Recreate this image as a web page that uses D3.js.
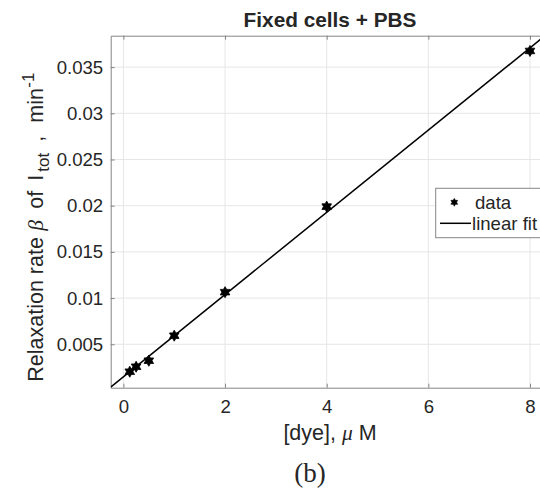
<!DOCTYPE html>
<html>
    <head>
        <title>Fixed cells + PBS</title>
        <script src="https://d3js.org/d3.v7.min.js"></script>
        <style>
            body { margin: 0; background: #fff; }
            text { font-family: "Liberation Sans", Arial, sans-serif; fill: #262626; }
        </style>
    </head>
    <body>
        <svg width="540" height="492"></svg>
        <script>
            // data
            const dye = [0.125, 0.25, 0.5, 1, 2, 4, 8];
            const beta = [0.00203, 0.00257, 0.00322, 0.00593, 0.01064, 0.0199, 0.03675];
            // linear fit
            const fitSlope = 0.00445;
            const fitIntercept = 0.00148;
            const xTicks = [0, 2, 4, 6, 8];
            const yTicks = [0.005, 0.01, 0.015, 0.02, 0.025, 0.03, 0.035];

            const svg = d3.select("svg");
            const axLeft = 110.7, axRight = 549.3, axTop = 35.7, axBottom = 387.7;

            const x = d3.scaleLinear().domain([-0.25, 8.38]).range([axLeft, axRight]);
            const y = d3.scaleLinear().domain([0.0003, 0.0384]).range([axBottom, axTop]);

            // grid
            svg.append("g")
                .selectAll("line")
                .data(xTicks)
                .join("line")
                .attr("x1", (d) => x(d)).attr("x2", (d) => x(d))
                .attr("y1", axTop).attr("y2", axBottom)
                .attr("stroke", "#e6e6e6");
            svg.append("g")
                .selectAll("line")
                .data(yTicks)
                .join("line")
                .attr("x1", axLeft).attr("x2", axRight)
                .attr("y1", (d) => y(d)).attr("y2", (d) => y(d))
                .attr("stroke", "#e6e6e6");

            // axes (box on, inward ticks)
            const xAxis = d3.axisBottom(x).tickValues(xTicks).tickSizeInner(-4).tickSizeOuter(0).tickPadding(12.5);
            const yAxis = d3.axisLeft(y).tickValues(yTicks).tickSizeInner(-4).tickSizeOuter(0).tickPadding(7.5)
                .tickFormat((d) => String(+d.toFixed(3)));

            const gx = svg.append("g").attr("transform", `translate(0,${axBottom})`).call(xAxis);
            const gy = svg.append("g").attr("transform", `translate(${axLeft},0)`).call(yAxis);
            const gxTop = svg.append("g").attr("transform", `translate(0,${axTop})`)
                .call(d3.axisTop(x).tickValues(xTicks).tickSizeInner(-4).tickSizeOuter(0).tickFormat(""));
            const gyRight = svg.append("g").attr("transform", `translate(${axRight},0)`)
                .call(d3.axisRight(y).tickValues(yTicks).tickSizeInner(-4).tickSizeOuter(0).tickFormat(""));

            [gx, gy, gxTop, gyRight].forEach((g) => {
                g.select(".domain").attr("stroke", "#858585");
                g.selectAll(".tick line").attr("stroke", "#858585");
                g.selectAll(".tick text").style("font-size", "18.6px").attr("fill", "#262626");
            });

            // clip for plot lines
            svg.append("clipPath").attr("id", "clip")
                .append("rect")
                .attr("x", axLeft).attr("y", axTop)
                .attr("width", axRight - axLeft).attr("height", axBottom - axTop);

            // fit line
            const fitX = x.domain();
            svg.append("line")
                .attr("clip-path", "url(#clip)")
                .attr("x1", x(fitX[0])).attr("y1", y(fitIntercept + fitSlope * fitX[0]))
                .attr("x2", x(fitX[1])).attr("y2", y(fitIntercept + fitSlope * fitX[1]))
                .attr("stroke", "#000")
                .attr("stroke-width", 1.5);

            // hexagram marker
            const hexagram = {
                draw(context, size) {
                    const r = Math.sqrt(size) * 0.62;
                    const ri = r / Math.sqrt(3);
                    for (let i = 0; i < 12; i++) {
                        const a = -Math.PI / 2 + (i * Math.PI) / 6;
                        const rr = i % 2 === 0 ? r : ri;
                        if (i === 0) context.moveTo(rr * Math.cos(a), rr * Math.sin(a));
                        else context.lineTo(rr * Math.cos(a), rr * Math.sin(a));
                    }
                    context.closePath();
                },
            };
            const marker = d3.symbol().type(hexagram);

            svg.append("g")
                .selectAll("path")
                .data(dye)
                .join("path")
                .attr("transform", (d, i) => `translate(${x(d)},${y(beta[i])})`)
                .attr("d", marker.size(80))
                .attr("fill", "#000")
                .attr("stroke", "#000")
                .attr("stroke-width", 0.8);

            // title
            svg.append("text")
                .attr("x", (axLeft + axRight) / 2).attr("y", 27.3)
                .attr("text-anchor", "middle")
                .style("font-size", "20.8px").style("font-weight", "bold")
                .attr("fill", "#000")
                .text("Fixed cells + PBS");

            // x label
            const xl = svg.append("text")
                .attr("x", (axLeft + axRight) / 2).attr("y", 440)
                .attr("text-anchor", "middle")
                .style("font-size", "21.5px");
            xl.append("tspan").text("[dye], ");
            xl.append("tspan").style("font-family", "'Liberation Serif', serif").style("font-style", "italic").text("\u03bc");
            xl.append("tspan").text(" M");

            // y label (pieces placed along the rotated baseline)
            const yl = svg.append("text")
                .attr("transform", "translate(43,381.7) rotate(-90)")
                .style("font-size", "21.5px");
            const serif = "'Liberation Serif', serif";
            yl.append("tspan").attr("x", 0).text("Relaxation rate");
            yl.append("tspan").attr("x", 151).style("font-family", serif).style("font-style", "italic").text("\u03b2");
            yl.append("tspan").attr("x", 173).text("of");
            yl.append("tspan").attr("x", 201).text("I");
            yl.append("tspan").attr("x", 210).attr("dy", 6).style("font-size", "17px").text("tot");
            yl.append("tspan").attr("x", 240).attr("dy", -6).text(",");
            yl.append("tspan").attr("x", 259).text("min");
            yl.append("tspan").attr("x", 294).attr("dy", -9).style("font-size", "17px").text("-1");

            // legend
            const lg = svg.append("g");
            lg.append("rect")
                .attr("x", 435.7).attr("y", 188.3)
                .attr("width", 110).attr("height", 49.4)
                .attr("fill", "#fff").attr("stroke", "#858585");
            lg.append("path")
                .attr("transform", "translate(454.3,202.3)")
                .attr("d", marker.size(40))
                .attr("fill", "#000").attr("stroke", "#000").attr("stroke-width", 0.6);
            lg.append("text").attr("x", 475).attr("y", 208.5).style("font-size", "18.6px").text("data");
            lg.append("line")
                .attr("x1", 440).attr("x2", 471).attr("y1", 223.3).attr("y2", 223.3)
                .attr("stroke", "#000").attr("stroke-width", 1.5);
            lg.append("text").attr("x", 472).attr("y", 229.5).style("font-size", "18.6px").text("linear fit");

            // caption
            svg.append("text")
                .attr("x", 310).attr("y", 482)
                .attr("text-anchor", "middle")
                .style("font-family", "'Liberation Serif', 'Times New Roman', serif")
                .style("font-size", "27px")
                .attr("fill", "#000")
                .text("(b)");
        </script>
    </body>
</html>
